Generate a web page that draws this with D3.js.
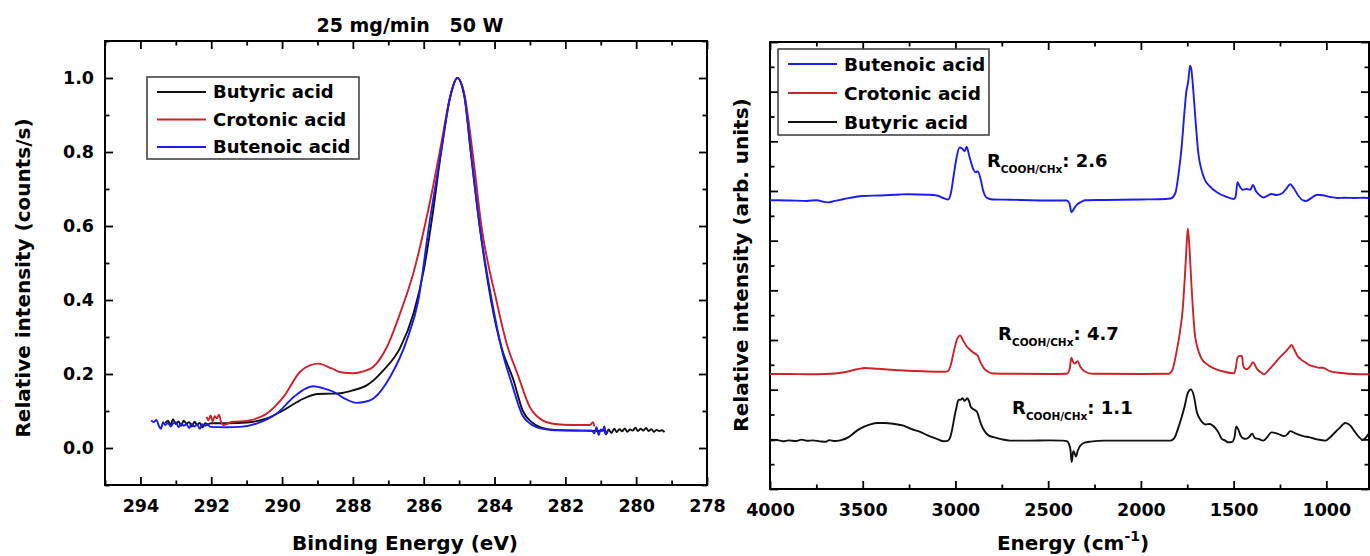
<!DOCTYPE html>
<html>
<head>
<meta charset="utf-8">
<script src="https://cdn.jsdelivr.net/npm/d3@7"></script>
<style>
  body { margin: 0; background: #fff; }
  svg text { font-family: "DejaVu Sans", sans-serif; font-weight: bold; fill: #000; }
</style>
</head>
<body>
<div id="chart"></div>
<script>
// ---- left panel: XPS C1s, [binding energy eV, relative intensity]
const xpsNames = ['Butyric acid', 'Crotonic acid', 'Butenoic acid'];
const butyricXps = [[293.3,0.068],[293.22,0.074],[293.15,0.062],[293.08,0.078],[293.0,0.064],[292.92,0.072],[292.85,0.06],[292.78,0.074],[292.7,0.066],[292.62,0.07],[292.55,0.058],[292.47,0.071],[292.4,0.063],[292.32,0.068],[292.25,0.056],[292.17,0.067],[292.1,0.064],[292.0,0.067],[291.5,0.067],[291.0,0.069],[290.43,0.08],[289.96,0.102],[289.49,0.129],[289.0,0.146],[288.6,0.147],[288.36,0.148],[288.0,0.156],[287.6,0.17],[287.14,0.21],[286.67,0.27],[286.29,0.363],[286.0,0.48],[285.75,0.63],[285.51,0.8],[285.25,0.95],[285.05,1.0],[284.85,0.95],[284.67,0.8],[284.42,0.6],[284.1,0.4],[283.8,0.27],[283.47,0.185],[283.2,0.1],[282.95,0.07],[282.7,0.056],[282.3,0.049],[281.5,0.047],[281.0,0.046],[280.92,0.049],[280.85,0.037],[280.78,0.05],[280.7,0.041],[280.62,0.052],[280.55,0.043],[280.47,0.051],[280.4,0.045],[280.32,0.053],[280.25,0.044],[280.17,0.05],[280.1,0.047],[280.02,0.055],[279.95,0.046],[279.87,0.052],[279.8,0.047],[279.72,0.054],[279.65,0.046],[279.57,0.051],[279.5,0.044],[279.42,0.049],[279.35,0.046],[279.27,0.048],[279.2,0.043]];
const crotonicXps = [[292.13,0.084],[292.08,0.075],[292.02,0.088],[291.96,0.072],[291.9,0.086],[291.84,0.08],[291.78,0.09],[291.72,0.07],[291.66,0.062],[291.4,0.071],[291.0,0.073],[290.9,0.075],[290.43,0.093],[289.96,0.138],[289.49,0.206],[289.2,0.224],[288.97,0.228],[288.6,0.215],[288.3,0.204],[288.0,0.202],[287.7,0.207],[287.43,0.219],[287.04,0.273],[286.67,0.363],[286.3,0.47],[285.97,0.6],[285.75,0.7],[285.51,0.82],[285.25,0.95],[285.05,1.0],[284.85,0.955],[284.62,0.8],[284.37,0.6],[283.95,0.4],[283.65,0.28],[283.35,0.2],[283.0,0.11],[282.7,0.078],[282.3,0.065],[281.8,0.062],[281.3,0.062],[281.22,0.07],[281.18,0.058]];
const butenoicXps = [[293.7,0.074],[293.62,0.07],[293.55,0.076],[293.48,0.06],[293.42,0.052],[293.36,0.07],[293.3,0.062],[293.22,0.068],[293.15,0.058],[293.08,0.066],[293.0,0.07],[292.92,0.056],[292.85,0.066],[292.78,0.06],[292.7,0.064],[292.62,0.054],[292.55,0.066],[292.48,0.058],[292.4,0.063],[292.32,0.052],[292.25,0.064],[292.18,0.06],[292.1,0.063],[292.03,0.057],[291.6,0.056],[291.19,0.057],[290.72,0.066],[290.15,0.093],[289.67,0.138],[289.35,0.16],[289.12,0.167],[288.85,0.162],[288.55,0.152],[288.2,0.132],[287.9,0.122],[287.65,0.125],[287.42,0.134],[286.95,0.192],[286.48,0.291],[286.15,0.4],[285.85,0.6],[285.51,0.8],[285.25,0.95],[285.05,1.0],[284.85,0.95],[284.67,0.8],[284.42,0.6],[284.08,0.4],[283.78,0.26],[283.5,0.17],[283.22,0.09],[283.0,0.066],[282.7,0.053],[282.3,0.048],[281.6,0.047],[281.25,0.047],[281.18,0.04],[281.12,0.056],[281.06,0.035],[281.0,0.05],[280.95,0.046],[280.9,0.058],[280.85,0.038],[280.8,0.048]];
const xpsMajorX = [294, 292, 290, 288, 286, 284, 282, 280, 278];
const xpsMinorX = [295, 293, 291, 289, 287, 285, 283, 281, 279];
const xpsMajorY = [0, 0.2, 0.4, 0.6, 0.8, 1.0];
const xpsMinorY = [-0.1, 0.1, 0.3, 0.5, 0.7, 0.9, 1.1];

// ---- right panel: IR spectra, [wavenumber cm-1, offset intensity]
const irNames = ['Butenoic acid', 'Crotonic acid', 'Butyric acid'];
const butenoicIr = [[4000,11.63],[3900,11.62],[3800,11.6],[3750,11.63],[3690,11.54],[3650,11.6],[3600,11.68],[3500,11.8],[3400,11.82],[3300,11.86],[3250,11.87],[3150,11.85],[3100,11.82],[3060,11.7],[3040,11.66],[3025,11.9],[3010,12.6],[2995,13.3],[2978,13.75],[2965,13.72],[2950,13.6],[2940,13.78],[2925,13.4],[2905,12.9],[2890,12.75],[2880,12.8],[2865,12.5],[2850,12.0],[2830,11.72],[2800,11.66],[2700,11.65],[2600,11.63],[2500,11.62],[2400,11.62],[2385,11.5],[2375,11.15],[2368,11.2],[2360,11.3],[2345,11.45],[2320,11.57],[2300,11.63],[2200,11.64],[2000,11.66],[1900,11.67],[1840,11.7],[1815,11.9],[1795,12.8],[1780,13.8],[1765,15.2],[1755,16.0],[1745,16.4],[1735,17.05],[1728,16.9],[1718,16.1],[1705,14.8],[1690,13.5],[1675,12.9],[1655,12.45],[1630,12.2],[1590,11.95],[1545,11.78],[1500,11.68],[1490,11.75],[1479,12.35],[1468,12.2],[1452,12.05],[1430,12.08],[1410,12.05],[1396,12.24],[1380,12.0],[1355,11.8],[1340,11.74],[1320,11.8],[1296,11.88],[1270,11.84],[1240,11.9],[1215,12.1],[1195,12.27],[1175,12.1],[1150,11.8],[1125,11.62],[1110,11.6],[1080,11.72],[1050,11.85],[1020,11.83],[980,11.76],[940,11.72],[900,11.73],[850,11.72],[800,11.73],[770,11.72]];
const crotonicIr = [[4000,4.63],[3900,4.63],[3800,4.62],[3700,4.63],[3600,4.7],[3530,4.82],[3487,4.87],[3420,4.84],[3300,4.78],[3150,4.73],[3060,4.72],[3040,4.75],[3025,5.0],[3010,5.5],[2995,5.95],[2975,6.18],[2960,6.0],[2940,5.75],[2920,5.6],[2895,5.45],[2883,5.4],[2865,5.1],[2845,4.85],[2820,4.7],[2795,4.65],[2700,4.64],[2500,4.63],[2400,4.64],[2385,4.8],[2375,5.29],[2365,5.1],[2357,5.05],[2342,5.15],[2325,4.9],[2300,4.72],[2260,4.64],[2000,4.63],[1850,4.64],[1830,4.8],[1810,5.44],[1790,6.3],[1775,7.2],[1765,8.29],[1755,9.6],[1747,10.49],[1738,9.7],[1730,8.57],[1720,7.3],[1710,6.29],[1695,5.7],[1676,5.29],[1640,5.0],[1609,4.87],[1550,4.72],[1500,4.66],[1490,4.8],[1479,5.29],[1468,5.36],[1455,5.36],[1448,4.95],[1430,4.82],[1410,4.95],[1396,5.11],[1375,4.85],[1350,4.68],[1335,4.62],[1310,4.8],[1280,5.05],[1251,5.3],[1217,5.55],[1200,5.7],[1188,5.8],[1172,5.6],[1155,5.35],[1139,5.23],[1110,5.08],[1094,5.0],[1060,4.92],[1039,4.88],[1020,4.88],[982,4.75],[915,4.67],[850,4.63],[770,4.62]];
const butyricIr = [[4000,1.95],[3960,1.97],[3930,1.92],[3900,1.96],[3860,1.93],[3830,1.99],[3800,1.94],[3770,1.96],[3730,1.92],[3700,1.9],[3680,1.97],[3650,1.93],[3621,1.96],[3576,2.09],[3540,2.3],[3509,2.45],[3460,2.6],[3420,2.66],[3380,2.66],[3330,2.62],[3280,2.55],[3240,2.42],[3190,2.3],[3150,2.16],[3100,2.02],[3062,1.92],[3040,1.95],[3028,2.09],[3015,2.5],[3006,2.88],[2994,3.3],[2984,3.59],[2970,3.6],[2962,3.66],[2950,3.55],[2935,3.66],[2925,3.5],[2917,3.3],[2900,3.2],[2883,3.09],[2870,2.8],[2861,2.59],[2840,2.3],[2820,2.15],[2795,2.09],[2750,2.0],[2705,1.95],[2600,1.95],[2500,1.96],[2420,1.95],[2400,1.93],[2385,1.75],[2380,1.59],[2373,1.09],[2365,1.52],[2358,1.45],[2351,1.31],[2340,1.55],[2328,1.73],[2300,1.88],[2279,1.9],[2200,1.95],[2000,1.95],[1900,1.95],[1840,1.95],[1820,2.05],[1799,2.45],[1780,2.9],[1765,3.3],[1747,3.87],[1730,4.01],[1714,3.73],[1698,3.09],[1680,2.8],[1665,2.66],[1650,2.6],[1631,2.62],[1598,2.45],[1580,2.25],[1564,2.02],[1545,1.95],[1531,1.88],[1508,1.9],[1495,2.1],[1486,2.52],[1475,2.4],[1463,2.16],[1450,2.05],[1434,2.02],[1415,2.1],[1400,2.23],[1385,2.05],[1367,2.02],[1340,1.95],[1320,2.08],[1296,2.28],[1260,2.22],[1229,2.13],[1210,2.2],[1195,2.33],[1170,2.25],[1150,2.19],[1120,2.12],[1094,2.09],[1050,2.0],[1005,1.95],[980,2.08],[960,2.23],[930,2.45],[898,2.66],[870,2.55],[849,2.33],[825,2.1],[805,1.98],[790,2.05],[771,2.23]];
const irMajorX = [4000, 3500, 3000, 2500, 2000, 1500, 1000];
const irMinorX = [3750, 3250, 2750, 2250, 1750, 1250, 750];
const irMajorY = [0, 2, 4, 6, 8, 10, 12, 14, 16, 18];
const irMinorY = [1, 3, 5, 7, 9, 11, 13, 15, 17];
const ratioLabels = ['2.6', '4.7', '1.1'];
const ratioX = [2830, 2770, 2695];
const ratioY = [12.97, 6.02, 3.01];

const black = '#111111', red = '#cc2229', blue = '#1c1cf0';

const svg = d3.select('#chart').append('svg')
    .attr('width', 1370)
    .attr('height', 556);

// draws the frame, inward ticks on all four sides and the tick labels
function frame(x, y, majX, minX, majY, minY, fmtX, fmtY, showY) {
    let [x0, x1] = x.range();
    let [y0, y1] = y.range();
    let g = svg.append('g');
    let tick = (sel) => {
        sel.select('.domain').remove();
        sel.selectAll('line').attr('stroke', '#000').attr('stroke-width', 1.8);
        sel.selectAll('text').style('font-size', '17.5px');
    };
    g.append('g').attr('transform', `translate(0,${y0})`)
        .call(d3.axisBottom(x).tickValues(majX).tickSize(-8).tickPadding(15).tickFormat(fmtX)).call(tick);
    g.append('g').attr('transform', `translate(0,${y0})`)
        .call(d3.axisBottom(x).tickValues(minX).tickSize(-4.5).tickFormat('')).call(tick);
    g.append('g').attr('transform', `translate(0,${y1})`)
        .call(d3.axisTop(x).tickValues(majX).tickSize(-8).tickFormat('')).call(tick);
    g.append('g').attr('transform', `translate(0,${y1})`)
        .call(d3.axisTop(x).tickValues(minX).tickSize(-4.5).tickFormat('')).call(tick);
    g.append('g').attr('transform', `translate(${x0},0)`)
        .call(d3.axisLeft(y).tickValues(majY).tickSize(-8).tickPadding(11).tickFormat(showY ? fmtY : '')).call(tick);
    g.append('g').attr('transform', `translate(${x0},0)`)
        .call(d3.axisLeft(y).tickValues(minY).tickSize(-4.5).tickFormat('')).call(tick);
    g.append('g').attr('transform', `translate(${x1},0)`)
        .call(d3.axisRight(y).tickValues(majY).tickSize(-8).tickFormat('')).call(tick);
    g.append('g').attr('transform', `translate(${x1},0)`)
        .call(d3.axisRight(y).tickValues(minY).tickSize(-4.5).tickFormat('')).call(tick);
    g.append('rect')
        .attr('x', x0).attr('y', y1)
        .attr('width', x1 - x0).attr('height', y0 - y1)
        .style('fill', 'none').style('stroke', '#000').style('stroke-width', 2);
}

function curves(x, y, series, colors) {
    let line = d3.line().curve(d3.curveMonotoneX).x(d => x(d[0])).y(d => y(d[1]));
    svg.append('g').selectAll('path')
        .data(series)
        .enter().append('path')
        .attr('d', d => line(d))
        .style('fill', 'none')
        .style('stroke', (d, i) => colors[i])
        .style('stroke-width', 1.9)
        .style('stroke-linejoin', 'round');
}

function legend(left, top, w, h, rowH, names, colors, fontSize) {
    let g = svg.append('g').attr('transform', `translate(${left},${top})`);
    g.append('rect').attr('width', w).attr('height', h)
        .style('fill', '#fff').style('stroke', '#444').style('stroke-width', 1.6);
    let item = g.selectAll('.legend-item').data(names).enter().append('g')
        .classed('legend-item', true)
        .attr('transform', (d, i) => `translate(0,${15 + i * rowH})`);
    item.append('line').attr('x1', 10).attr('x2', 59)
        .style('stroke', (d, i) => colors[i]).style('stroke-width', 2.2);
    item.append('text').attr('x', 66).attr('dy', '0.36em')
        .style('font-size', fontSize + 'px').text(d => d);
}

// ---- left panel
const xL = d3.scaleLinear().domain([295, 278]).range([105, 707]);
const yL = d3.scaleLinear().domain([-0.1, 1.1]).range([485, 41]);
frame(xL, yL, xpsMajorX, xpsMinorX, xpsMajorY, xpsMinorY, d3.format('d'), d3.format('.1f'), true);
curves(xL, yL, [butyricXps, crotonicXps, butenoicXps], [black, red, blue]);
legend(147, 77, 212, 82, 27.5, xpsNames, [black, red, blue], 18);

svg.append('text').attr('x', 410).attr('y', 32).attr('text-anchor', 'middle')
    .style('font-size', '19px').attr('xml:space', 'preserve').text('25 mg/min   50 W');
svg.append('text').attr('x', 405).attr('y', 550).attr('text-anchor', 'middle')
    .style('font-size', '20px').text('Binding Energy (eV)');
svg.append('text').attr('transform', 'translate(30,278) rotate(-90)').attr('text-anchor', 'middle')
    .style('font-size', '20px').text('Relative intensity (counts/s)');

// ---- right panel
const xR = d3.scaleLinear().domain([4000, 770]).range([770, 1369]);
const yR = d3.scaleLinear().domain([0, 18]).range([489, 42]);
frame(xR, yR, irMajorX, irMinorX, irMajorY, irMinorY, d3.format('d'), null, false);
curves(xR, yR, [butenoicIr, crotonicIr, butyricIr], [blue, red, black]);
legend(778, 49, 211, 86, 29, irNames, [blue, red, black], 18.5);

ratioLabels.forEach((v, i) => {
    let t = svg.append('text').attr('x', xR(ratioX[i])).attr('y', yR(ratioY[i])).style('font-size', '18px');
    t.append('tspan').text('R');
    t.append('tspan').attr('dy', 6).style('font-size', '10.5px').text('COOH/CHx');
    t.append('tspan').attr('dy', -6).text(': ' + v);
});

let ex = svg.append('text').attr('x', 1073).attr('y', 550).attr('text-anchor', 'middle').style('font-size', '20px');
ex.append('tspan').text('Energy (cm');
ex.append('tspan').attr('dy', -9).style('font-size', '14px').text('-1');
ex.append('tspan').attr('dy', 9).text(')');
svg.append('text').attr('transform', 'translate(748,265) rotate(-90)').attr('text-anchor', 'middle')
    .style('font-size', '20px').text('Relative intensity (arb. units)');
</script>
</body>
</html>
